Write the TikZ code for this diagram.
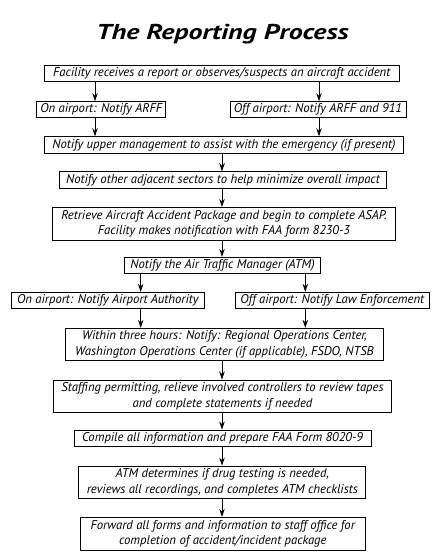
\documentclass[tikz,border=0pt]{standalone}
\usepackage{fontspec}
\setmainfont{PT Sans}
\newfontfamily\titlefont[FakeStretch=1.3]{PT Sans}
\usetikzlibrary{arrows.meta}
\begin{document}
\begin{tikzpicture}[x=1bp,y=-1bp,
  box/.style={draw=black,line width=0.9bp,inner sep=0pt,align=center,
    font=\fontsize{12.7bp}{15.7bp}\selectfont\itshape},
  arr/.style={line width=0.9bp,-{Stealth[length=8bp,width=5.5bp]}},
  ln/.style={line width=0.9bp}]
\useasboundingbox (0,0) rectangle (441,560);
\node[font=\titlefont\fontsize{21.5bp}{24bp}\selectfont\bfseries\itshape] (title) at (222.5,34) {The Reporting Process};
\node[box,minimum width=354.7bp,minimum height=16.3bp] (b1) at (221.7,73.8) {Facility receives a report or observes/suspects an aircraft accident};
\node[box,minimum width=129bp,minimum height=16.3bp] (b2a) at (101.2,109.8) {On airport: Notify ARFF};
\node[box,minimum width=176bp,minimum height=16.3bp] (b2b) at (318,109.8) {Off airport: Notify ARFF and 911};
\node[box,minimum width=359.4bp,minimum height=16.6bp] (b3) at (224,145) {Notify upper management to assist with the emergency (if present)};
\node[box,minimum width=327.4bp,minimum height=16.6bp] (b4) at (223,180) {Notify other adjacent sectors to help minimize overall impact};
\node[box,minimum width=343.4bp,minimum height=32.7bp] (b5) at (224,223.7) {Retrieve Aircraft Accident Package and begin to complete ASAP.\\Facility makes notification with FAA form 8230-3};
\node[box,minimum width=196.4bp,minimum height=16bp] (b6) at (222.5,265.3) {Notify the Air Traffic Manager (ATM)};
\node[box,minimum width=192.3bp,minimum height=16bp] (b7a) at (107.8,300.3) {On airport: Notify Airport Authority};
\node[box,minimum width=194bp,minimum height=16bp] (b7b) at (332.3,300.3) {Off airport: Notify Law Enforcement};
\node[box,minimum width=318.4bp,minimum height=32.4bp] (b8) at (224.5,344.5) {Within three hours: Notify: Regional Operations Center,\\Washington Operations Center (if applicable), FSDO, NTSB};
\node[box,minimum width=338.4bp,minimum height=32.7bp] (b9) at (222.5,396.3) {Staffing permitting, relieve involved controllers to review tapes\\and complete statements if needed};
\node[box,minimum width=297bp,minimum height=16bp] (b10) at (222.5,438) {Compile all information and prepare FAA Form 8020-9};
\node[box,minimum width=286.7bp,minimum height=32.3bp] (b11) at (222.3,482.2) {ATM determines if drug testing is needed,\\reviews all recordings, and completes ATM checklists};
\node[box,minimum width=285bp,minimum height=32.7bp] (b12) at (222.8,533.7) {Forward all forms and information to staff office for\\completion of accident/incident package};
\coordinate (xl) at (95,0);
\coordinate (xr) at (319,0);
\coordinate (xm) at (222,0);
\coordinate (xl2) at (140.7,0);
\coordinate (xr2) at (305.3,0);
\draw[arr] (b1.south -| xl) -- (b2a.north -| xl);
\draw[arr] (b1.south -| xr) -- (b2b.north -| xr);
\draw[arr] (b2a.south -| xl) -- (b3.north -| xl);
\draw[arr] (b2b.south -| xr) -- (b3.north -| xr);
\draw[arr] (b3.south -| xm) -- (b4.north -| xm);
\draw[arr] (b4.south -| xm) -- (b5.north -| xm);
\draw[arr] (b5.south -| xm) -- (b6.north -| xm);
\draw[arr] (b6.south -| xl2) -- (b7a.north -| xl2);
\draw[arr] (b6.south -| xr2) -- (b7b.north -| xr2);
\draw[arr] (b7a.south -| xl2) -- (b8.north -| xl2);
\draw[arr] (b7b.south -| xr2) -- (b8.north -| xr2);
\draw[arr] (b8.south -| xm) -- (b9.north -| xm);
\draw[arr] (b9.south -| xm) -- (b10.north -| xm);
\draw[arr] (b10.south -| xm) -- (b11.north -| xm);
\draw[arr] (b11.south -| xm) -- (b12.north -| xm);
\end{tikzpicture}
\end{document}
